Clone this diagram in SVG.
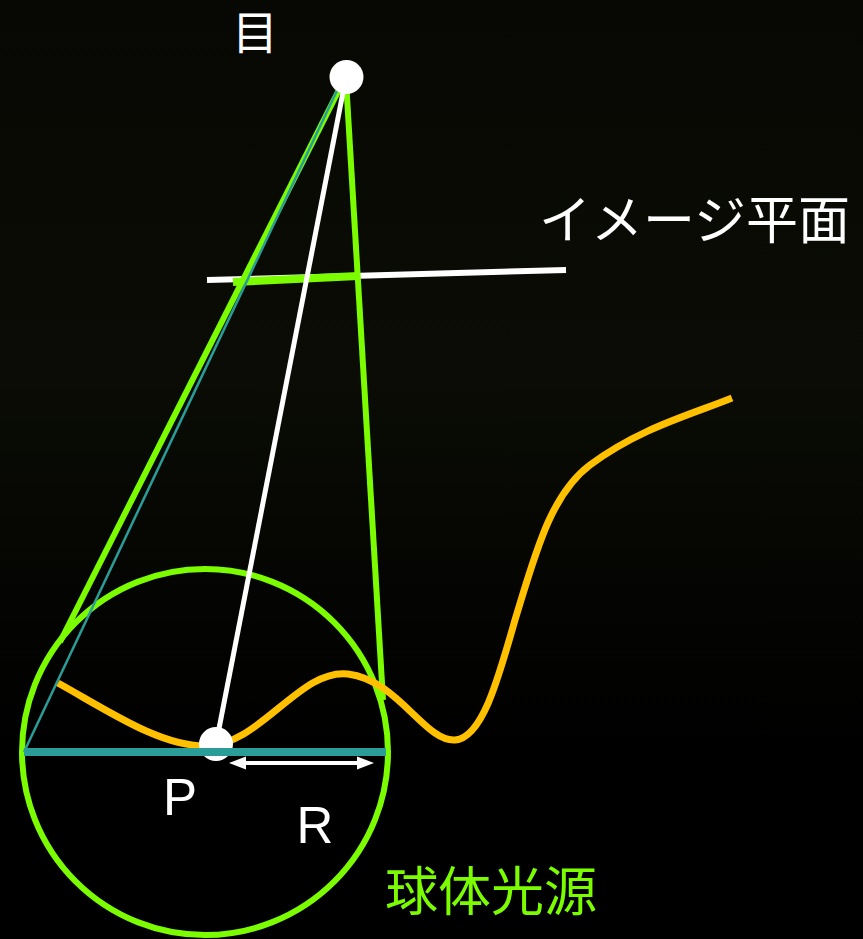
<svg xmlns="http://www.w3.org/2000/svg" width="863" height="939" viewBox="0 0 863 939">
<defs>
<linearGradient id="bg" x1="0" y1="0" x2="0" y2="1">
<stop offset="0" stop-color="#070803"/>
<stop offset="0.4" stop-color="#0a0c05"/>
<stop offset="0.8" stop-color="#000000"/>
</linearGradient>
<style>
.g{fill:none;stroke:#7cfc00;stroke-width:6}
.w{fill:none;stroke:#ffffff}
.head{fill:#ffffff}
.jp{font-family:"Noto Sans CJK JP","Noto Sans",sans-serif}
.lat{font-family:"Liberation Sans",Arial,sans-serif;fill:#ffffff}
</style>
</defs>
<rect width="863" height="939" fill="url(#bg)"/>
<g id="sphere">
<circle cx="205" cy="752" r="183" class="g" stroke-width="7"/>
</g>
<g id="connectors">
<line x1="207" y1="280" x2="566" y2="270" class="w" stroke-width="6"/>
<line x1="233" y1="282" x2="358" y2="276" stroke="#7cfc00" stroke-width="8"/>
<line x1="344" y1="80" x2="60" y2="642" class="g"/>
<line x1="346" y1="80" x2="383" y2="700" class="g"/>
<line x1="342" y1="80" x2="24" y2="752" stroke="#2a9d98" stroke-width="2.5"/>
<line x1="346" y1="77" x2="216" y2="744" class="w" stroke-width="5"/>
<path d="M58,683 C110,712 160,746 205,746 C260,746 300,668 348,674 C398,680 425,742 455,740 C482,738 498,680 515,620 C535,555 550,495 590,465 C640,428 690,415 732,398" fill="none" stroke="#ffc000" stroke-width="7"/>
<line x1="240" y1="763" x2="362" y2="763" class="w" stroke-width="4"/>
<polygon class="head" points="229,763 246,756.5 246,769.5"/>
<polygon class="head" points="374,763 357,756.5 357,769.5"/>
</g>
<g id="eye">
<circle cx="346.5" cy="77" r="17" fill="#ffffff"/>
<text x="255" y="49" font-size="46" fill="#ffffff" text-anchor="middle" class="jp">目</text>
</g>
<g id="image-plane-label">
<text x="539" y="239" font-size="52" fill="#ffffff" class="jp">イメージ平面</text>
</g>
<g id="P">
<circle cx="216" cy="744" r="17" fill="#ffffff"/>
<line x1="24" y1="752" x2="386" y2="752" stroke="#2a9d98" stroke-width="8"/>
<text x="180" y="815" font-size="51" text-anchor="middle" class="lat">P</text>
</g>
<g id="R">
<text x="315" y="843" font-size="51" text-anchor="middle" class="lat">R</text>
</g>
<g id="light-label">
<text x="385" y="911" font-size="53" fill="#7cfc00" class="jp">球体光源</text>
</g>
</svg>
